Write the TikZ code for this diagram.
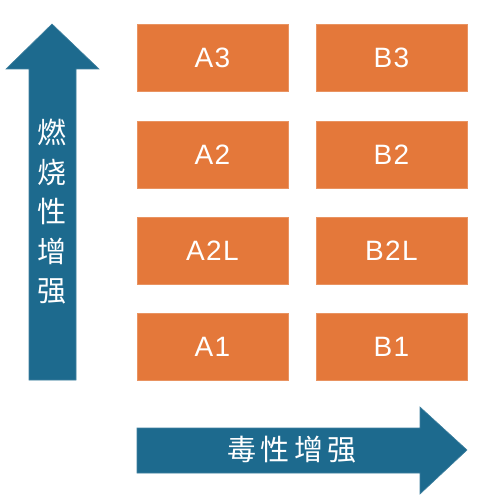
\documentclass[tikz,border=0pt]{standalone}
\usepackage{fontspec}
\setmainfont{Liberation Sans}
\newfontfamily\cellfont[LetterSpace=5]{Liberation Sans}
\newfontfamily\cjk{Noto Sans CJK SC}
\newfontfamily\cjkwide[LetterSpace=14]{Noto Sans CJK SC}
\definecolor{boxorange}{HTML}{E4783A}
\definecolor{arrowblue}{HTML}{1D6A8E}
\begin{document}
\begin{tikzpicture}[x=1pt,y=-1pt,
  cell/.style={fill=boxorange,draw=boxorange!80!white,line width=0.6pt,text=white,
    font=\cellfont\fontsize{28}{28}\selectfont,inner sep=0pt,
    minimum width=151pt,minimum height=67pt},
  arrowshape/.style={fill=arrowblue,draw=arrowblue!85!white,line width=0.6pt},
  arrowlabel/.style={text=white,inner sep=0pt}]
\useasboundingbox (0,0) rectangle (479,502);
% vertical arrow
\draw[arrowshape] (52,24) -- (99,69) -- (76,69) -- (76,380) -- (29,380) -- (29,69) -- (6,69) -- cycle;
% horizontal arrow
\draw[arrowshape] (137,428) -- (420,428) -- (420,407) -- (467,450) -- (420,494) -- (420,473) -- (137,473) -- cycle;
% cells
\node[cell] (A3) at (212.5,58) {A3};
\node[cell] (A2) at (212.5,154.5) {A2};
\node[cell] (A2L) at (212.5,250.5) {A2L};
\node[cell] (A1) at (212.5,346.5) {A1};
\node[cell] (B3) at (391.5,58) {B3};
\node[cell] (B2) at (391.5,154.5) {B2};
\node[cell] (B2L) at (391.5,250.5) {B2L};
\node[cell] (B1) at (391.5,346.5) {B1};
% labels
\node[arrowlabel,align=center,font=\cjk\fontsize{29}{39.5}\selectfont] (vlab) at (52,212) {燃\\烧\\性\\增\\强};
\node[arrowlabel,font=\cjkwide\fontsize{29}{29}\selectfont] (hlab) at (292,450) {毒性增强};
\end{tikzpicture}
\end{document}
